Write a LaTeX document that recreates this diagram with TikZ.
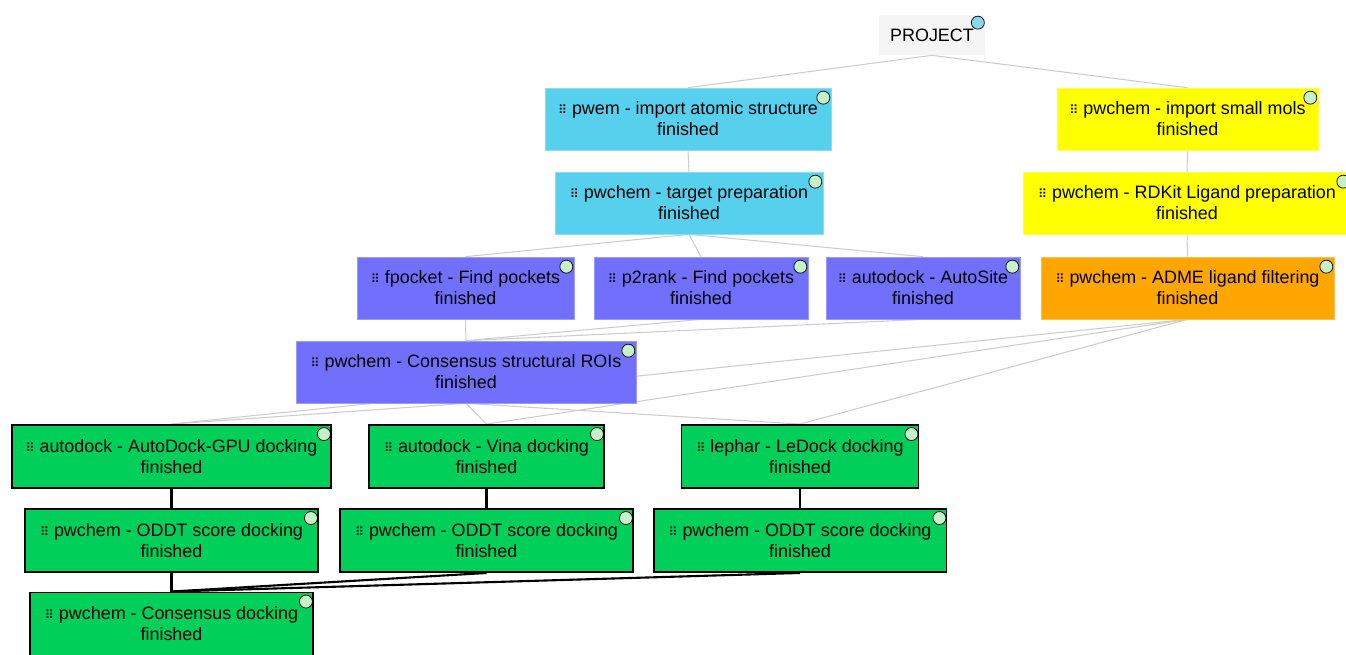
\documentclass[tikz,border=0pt]{standalone}
\usepackage{fontspec}
\setmainfont{Liberation Sans}
\newfontfamily\dejavu{DejaVu Sans}
\usepackage{tikz}
\pgfdeclarelayer{background}
\pgfsetlayers{background,main}
\definecolor{protcyan}{RGB}{87,208,238}
\definecolor{ligyellow}{RGB}{255,255,0}
\definecolor{admeorange}{RGB}{255,166,0}
\definecolor{pockviolet}{RGB}{112,112,252}
\definecolor{dockgreen}{RGB}{0,208,90}
\definecolor{projgray}{RGB}{245,245,245}
\definecolor{edgegray}{RGB}{204,204,204}
\definecolor{donegreen}{RGB}{200,240,200}
\definecolor{projblue}{RGB}{136,216,232}
\newcommand{\gridicon}{{\dejavu\fontsize{7}{7}\selectfont ⠿}}
\tikzset{
  box/.style={draw=#1!70!white, fill=#1, line width=0.4pt, minimum height=1.24cm,
    inner sep=0pt, align=center, font=\fontsize{10.2}{12}\selectfont},
  dockbox/.style={draw=black, fill=dockgreen, line width=1.1pt, minimum height=1.26cm,
    inner sep=0pt, align=center, font=\fontsize{10.2}{12}\selectfont},
  projbox/.style={fill=projgray, minimum width=2.14cm, minimum height=0.8cm,
    inner sep=0pt, font=\fontsize{10.2}{12}\selectfont},
  light/.style={draw=edgegray, line width=0.6pt},
  heavy/.style={draw=black, line width=1.2pt},
  status/.style={draw=black, line width=0.4pt, fill=donegreen}
}
\begin{document}
\begin{tikzpicture}[x=0.02cm, y=-0.02cm]
\useasboundingbox (0,0) rectangle (1346,654);
\node[projbox] (project) at (932,35) {PROJECT};
\node[box=protcyan, minimum width=5.72cm] (import) at (688,119) {\gridicon\ pwem - import atomic structure\\finished};
\node[box=protcyan, minimum width=5.36cm] (target) at (689,203) {\gridicon\ pwchem - target preparation\\finished};
\node[box=ligyellow, minimum width=5.22cm] (mols) at (1187.5,119) {\gridicon\ pwchem - import small mols\\finished};
\node[box=ligyellow, minimum width=6.56cm] (rdkit) at (1187,203) {\gridicon\ pwchem - RDKit Ligand preparation\\finished};
\node[box=pockviolet, minimum width=4.34cm] (fpocket) at (465.5,288) {\gridicon\ fpocket - Find pockets\\finished};
\node[box=pockviolet, minimum width=4.28cm] (p2rank) at (701,288) {\gridicon\ p2rank - Find pockets\\finished};
\node[box=pockviolet, minimum width=3.88cm] (autosite) at (923,288) {\gridicon\ autodock - AutoSite\\finished};
\node[box=admeorange, minimum width=5.86cm] (adme) at (1187.5,288) {\gridicon\ pwchem - ADME ligand filtering\\finished};
\node[box=pockviolet, minimum width=6.80cm] (rois) at (466,372) {\gridicon\ pwchem - Consensus structural ROIs\\finished};
\node[dockbox, minimum width=6.38cm] (gpu) at (171.5,456.5) {\gridicon\ autodock - AutoDock-GPU docking\\finished};
\node[dockbox, minimum width=4.70cm] (vina) at (486.5,456.5) {\gridicon\ autodock - Vina docking\\finished};
\node[dockbox, minimum width=4.74cm] (ledock) at (800,456.5) {\gridicon\ lephar - LeDock docking\\finished};
\node[dockbox, minimum width=5.86cm] (oddtA) at (171.5,540.5) {\gridicon\ pwchem - ODDT score docking\\finished};
\node[dockbox, minimum width=5.86cm] (oddtB) at (486.5,540.5) {\gridicon\ pwchem - ODDT score docking\\finished};
\node[dockbox, minimum width=5.86cm] (oddtC) at (800,540.5) {\gridicon\ pwchem - ODDT score docking\\finished};
\node[dockbox, minimum width=5.66cm] (consensus) at (171.5,624) {\gridicon\ pwchem - Consensus docking\\finished};
\draw[draw=black, line width=0.4pt, fill=projblue] ([xshift=-0.16cm,yshift=-0.16cm]project.north east) circle (0.13cm);
\foreach \n in {import,target,mols,rdkit,fpocket,p2rank,autosite,adme,rois,gpu,vina,ledock,oddtA,oddtB,oddtC,consensus}
  \draw[status] ([xshift=-0.16cm,yshift=-0.2cm]\n.north east) circle (0.13cm);
\begin{pgfonlayer}{background}
\draw[light] (project.south) -- (import.north);
\draw[light] (project.south) -- (mols.north);
\draw[light] (import.south) -- (target.north);
\draw[light] (mols.south) -- (rdkit.north);
\draw[light] (rdkit.south) -- (adme.north);
\foreach \n in {fpocket,p2rank,autosite} {
  \draw[light] (target.south) -- (\n.north);
  \draw[light] (\n.south) -- (rois.north);
}
\foreach \n in {gpu,vina,ledock} {
  \draw[light] (rois.south) -- (\n.north);
  \draw[light] (adme.south) -- (\n.north);
}
\draw[heavy] (gpu.south) -- (oddtA.north);
\draw[heavy] (vina.south) -- (oddtB.north);
\draw[heavy] (ledock.south) -- (oddtC.north);
\foreach \n in {oddtA,oddtB,oddtC}
  \draw[heavy] (\n.south) -- (consensus.north);
\end{pgfonlayer}
\end{tikzpicture}
\end{document}
